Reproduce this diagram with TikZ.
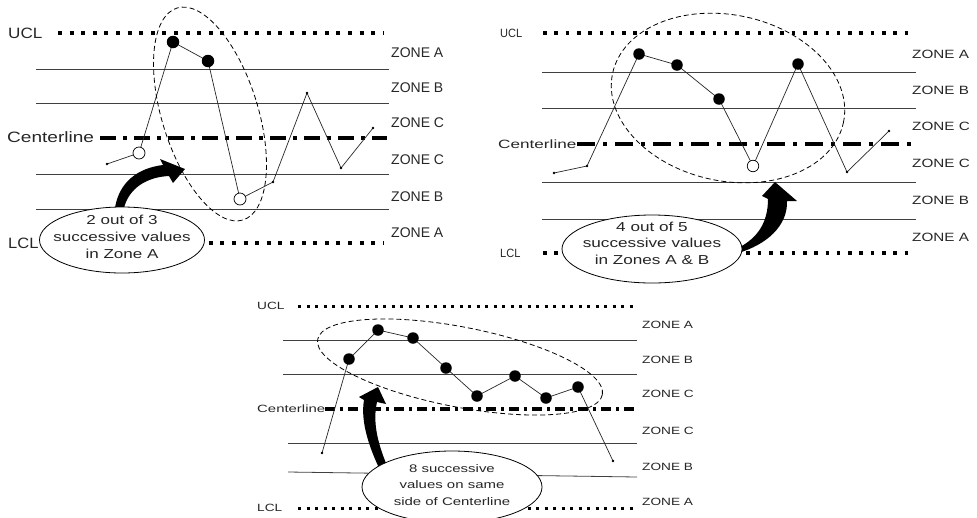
\documentclass[tikz,border=0pt]{standalone}
\usepackage{fontspec}
\setmainfont{Liberation Sans}
\usepackage{graphicx}
\usetikzlibrary{shapes.geometric}
% horizontally stretched text
\newcommand{\wide}[2]{\scalebox{#1}[1]{#2}}

\tikzset{
  zone/.style={line width=0.8pt, draw=black!75},
  limitA/.style={line width=4pt, dash pattern=on 4pt off 7.6pt},
  limitB/.style={line width=3.6pt, dash pattern=on 3.6pt off 7.7pt},
  limitC/.style={line width=3pt, dash pattern=on 3pt off 5.5pt},
  meanA/.style={line width=4pt, dash pattern=on 16pt off 7pt on 4pt off 7pt},
  meanB/.style={line width=4pt, dash pattern=on 18pt off 8pt on 4pt off 8pt},
  meanC/.style={line width=3.4pt, dash pattern=on 10pt off 5pt on 3pt off 5pt},
  series/.style={line width=0.7pt, draw=black!85},
  hit/.style={circle, fill=black, inner sep=0pt, minimum size=#1},
  hit/.default=12pt,
  miss/.style={circle, draw=black, fill=white, line width=0.7pt, inner sep=0pt, minimum size=12pt},
  vertex/.style={circle, fill=black, inner sep=0pt, minimum size=2.6pt},
  group/.style={line width=0.8pt, dash pattern=on 5pt off 3pt},
  callout/.style={ellipse, draw=black, fill=white, line width=0.8pt, inner sep=0pt},
  pointer/.style={fill=black},
  lbl/.style={inner sep=0pt, anchor=west, text=black!85},
  note/.style={inner sep=0pt, align=center, text=black!85}
}

\begin{document}
\begin{tikzpicture}[x=1pt, y=-1pt]
\useasboundingbox (0,0) rectangle (977,517);

% ---------------- top left: 2 out of 3 in zone A ----------------
\foreach \yy in {69,103,174,209} \draw[zone] (36,\yy) -- (389,\yy);
\draw[limitA] (58,33) -- (384,33);
\draw[limitA] (58,243) -- (384,243);
\draw[meanA] (100,138) -- (387,138);
\draw[series] (107,164) -- (139,153) -- (173,42) -- (208,61) -- (240,199)
  -- (273,182) -- (307,93) -- (341,168) -- (373,128);
\node[vertex] (a0) at (107,164) {};
\node[miss]   (a1) at (139,153) {};
\node[hit=12.5pt] (a2) at (173,42) {};
\node[hit=12.5pt] (a3) at (208,61) {};
\node[miss]   (a4) at (240,199) {};
\node[vertex] (a5) at (273,182) {};
\node[vertex] (a6) at (307,93) {};
\node[vertex] (a7) at (341,168) {};
\node[vertex] (a8) at (373,128) {};
\draw[group, rotate around={17.3:(210,114)}] (210,114) ellipse [x radius=48pt, y radius=111pt];
\fill[pointer] (115,208) .. controls (119,182) and (138,168) .. (163,165)
  -- (160,159) -- (185,169) -- (173,183) -- (169,176)
  .. controls (147,177) and (129,188) .. (124,208) -- cycle;
\node[callout, minimum width=165pt, minimum height=66pt] (note1) at (122,240) {};
\node[note, font=\fontsize{13pt}{17pt}\selectfont] at (note1.center) [yshift=3pt]
  {\wide{1.31}{2 out of 3}\\\wide{1.31}{successive values}\\\wide{1.31}{in Zone A}};
\begin{scope}[font=\fontsize{15pt}{18pt}\selectfont]
  \node[lbl] (ucl1) at (8,33) {\wide{1.14}{UCL}};
  \node[lbl] (cl1) at (7,137) {\wide{1.27}{Centerline}};
  \node[lbl] (lcl1) at (8,243) {\wide{1.1}{LCL}};
\end{scope}
\begin{scope}[font=\fontsize{14pt}{16pt}\selectfont]
  \node[lbl] at (391,53)  {ZONE A};
  \node[lbl] at (391,88)  {ZONE B};
  \node[lbl] at (391,123) {ZONE C};
  \node[lbl] at (391,160) {ZONE C};
  \node[lbl] at (391,197) {ZONE B};
  \node[lbl] at (391,233) {ZONE A};
\end{scope}

% ---------------- top right: 4 out of 5 in zones A and B ----------------
\foreach \yy in {72,108,182,219} \draw[zone] (542,\yy) -- (916,\yy);
\draw[limitB] (543,33) -- (908,33);
\draw[limitB] (543,253) -- (908,253);
\draw[meanB] (577,144) -- (916,144);
\draw[series] (554,173) -- (587,166) -- (639,54) -- (677,65) -- (719,99)
  -- (753,166) -- (798,64) -- (847,172) -- (889,131);
\node[vertex] (b0) at (554,173) {};
\node[vertex] (b1) at (587,166) {};
\node[hit=11.5pt] (b2) at (639,54) {};
\node[hit=11.5pt] (b3) at (677,65) {};
\node[hit=11.5pt] (b4) at (719,99) {};
\node[miss, minimum size=11.5pt] (b5) at (753,166) {};
\node[hit=11.5pt] (b6) at (798,64) {};
\node[vertex] (b7) at (847,172) {};
\node[vertex] (b8) at (889,131) {};
\draw[group, rotate around={-12:(728,98)}] (728,98) ellipse [x radius=118pt, y radius=83pt];
\fill[pointer] (738,248) .. controls (758,238) and (768,222) .. (768,199)
  -- (762,196) -- (775,182) -- (797,201) -- (787,201)
  .. controls (788,226) and (766,245) .. (738,253) -- cycle;
\node[callout, minimum width=180pt, minimum height=68pt] (note2) at (652,249) {};
\node[note, font=\fontsize{13pt}{16.5pt}\selectfont] at (note2.center) [yshift=6pt]
  {\wide{1.32}{4 out of 5}\\\wide{1.32}{successive values}\\\wide{1.32}{in Zones A \& B}};
\begin{scope}[font=\fontsize{12pt}{14pt}\selectfont]
  \node[lbl] (ucl2) at (500,33) {\wide{0.92}{UCL}};
  \node[lbl] (cl2) at (498,144) {\wide{1.43}{Centerline}};
  \node[lbl] (lcl2) at (500,253) {\wide{0.92}{LCL}};
  \node[lbl] at (912,54)  {\wide{1.27}{ZONE A}};
  \node[lbl] at (912,90)  {\wide{1.27}{ZONE B}};
  \node[lbl] at (912,126) {\wide{1.27}{ZONE C}};
  \node[lbl] at (912,163) {\wide{1.27}{ZONE C}};
  \node[lbl] at (912,200) {\wide{1.27}{ZONE B}};
  \node[lbl] at (912,237) {\wide{1.27}{ZONE A}};
\end{scope}

% ---------------- bottom: 8 successive values on one side ----------------
\draw[zone] (283,340) -- (637,340);
\draw[zone] (283,374) -- (637,374);
\draw[zone] (288,443) -- (637,443);
\draw[zone] (288,472) -- (637,477);
\draw[limitC] (298,306) -- (637,306);
\draw[limitC] (298,508) -- (637,508);
\draw[meanC] (325,409) -- (637,409);
\draw[series] (322,453) -- (349,359) -- (378,330) -- (413,338) -- (446,368)
  -- (477,396) -- (515,376) -- (546,398) -- (578,387) -- (613,461);
\node[vertex] (c0) at (322,453) {};
\node[hit=11.5pt] (c1) at (349,359) {};
\node[hit=11.5pt] (c2) at (378,330) {};
\node[hit=11.5pt] (c3) at (413,338) {};
\node[hit=11.5pt] (c4) at (446,368) {};
\node[hit=11.5pt] (c5) at (477,396) {};
\node[hit=11.5pt] (c6) at (515,376) {};
\node[hit=11.5pt] (c7) at (546,398) {};
\node[hit=11.5pt] (c8) at (578,387) {};
\node[vertex] (c9) at (613,461) {};
\draw[group, rotate around={-11:(460,367)}] (460,367) ellipse [x radius=145pt, y radius=40pt];
\fill[pointer] (379,468) .. controls (366,440) and (361,418) .. (364,400)
  -- (359,397) -- (378,387) -- (386,404) -- (377,402)
  .. controls (373,420) and (376,440) .. (388,468) -- cycle;
\node[callout, minimum width=180pt, minimum height=72pt] (note3) at (452,487) {};
\node[note, font=\fontsize{11pt}{16.5pt}\selectfont] at (note3.center) [yshift=2pt]
  {\wide{1.36}{8 successive}\\\wide{1.36}{values on same}\\\wide{1.36}{side of Centerline}};
\begin{scope}[font=\fontsize{10.5pt}{12pt}\selectfont]
  \node[lbl] (ucl3) at (257,306) {\wide{1.3}{UCL}};
  \node[lbl] (cl3) at (257,409) {\wide{1.42}{Centerline}};
  \node[lbl] (lcl3) at (257,508) {\wide{1.3}{LCL}};
  \node[lbl] at (642,325) {\wide{1.3}{ZONE A}};
  \node[lbl] at (642,360) {\wide{1.3}{ZONE B}};
  \node[lbl] at (642,394) {\wide{1.3}{ZONE C}};
  \node[lbl] at (642,431) {\wide{1.3}{ZONE C}};
  \node[lbl] at (642,467) {\wide{1.3}{ZONE B}};
  \node[lbl] at (642,502) {\wide{1.3}{ZONE A}};
\end{scope}
\end{tikzpicture}
\end{document}
